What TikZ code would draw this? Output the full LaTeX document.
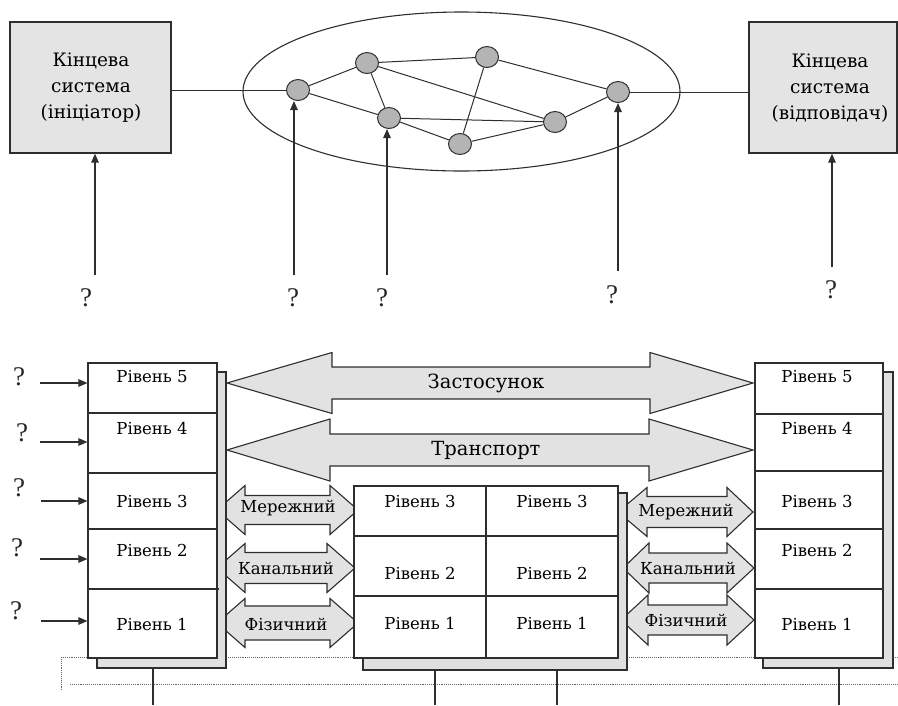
\documentclass[tikz,border=0pt]{standalone}
\usepackage{fontspec}
\setmainfont{DejaVu Serif}
\newfontfamily\qfont{Liberation Serif}
\usetikzlibrary{arrows.meta,shapes.geometric}
\definecolor{ln}{HTML}{2E2E2E}
\definecolor{boxfill}{HTML}{E4E4E4}
\definecolor{nodefill}{HTML}{B4B4B4}
\definecolor{arrfill}{HTML}{E2E2E2}
\definecolor{shadefill}{HTML}{E0E0E0}
\newcommand{\mkdarrow}[7]{\draw[bigarr] (#1,#5) -- (#2,#5-#6) -- (#2,#5-#7) -- (#3,#5-#7) -- (#3,#5-#6) -- (#4,#5) -- (#3,#5+#6) -- (#3,#5+#7) -- (#2,#5+#7) -- (#2,#5+#6) -- cycle;}
\begin{document}
\begin{tikzpicture}[x=1pt,y=-1pt,
  endbox/.style={draw=ln, line width=1.3pt, fill=boxfill, rectangle, inner sep=0pt},
  endtext/.style={align=center, font=\fontsize{18.5}{26}\selectfont, text=black},
  netnode/.style={draw=ln, line width=1pt, fill=nodefill, ellipse, minimum width=23pt, minimum height=21pt, inner sep=0pt},
  netedge/.style={draw=ln, line width=1pt},
  uparr/.style={draw=ln, line width=1.2pt, -{Triangle[length=9pt,width=7.5pt]}},
  qmark/.style={font=\qfont\fontsize{27}{27}\selectfont, text=black!85, inner sep=0pt},
  bigarr/.style={draw=ln, line width=1.1pt, fill=arrfill, line join=miter},
  shadowbox/.style={draw=ln, line width=1.1pt, fill=shadefill},
  stackbox/.style={draw=ln, line width=1.1pt, fill=white, rectangle, inner sep=0pt},
  divider/.style={draw=ln, line width=1.1pt},
  lvl/.style={font=\fontsize{16.5}{18}\selectfont, text=black, inner sep=0pt},
  arrlabel/.style={font=\fontsize{16.5}{18}\selectfont, text=black, inner sep=0pt},
  biglabel/.style={font=\fontsize{19.5}{21}\selectfont, text=black, inner sep=0pt},
  dotline/.style={draw=black!60, line width=0.9pt, densely dotted},
  stem/.style={draw=ln, line width=1.1pt}
]
\useasboundingbox (0,0) rectangle (898,705);

% ---------- top part ----------
\node[endbox, minimum width=161pt, minimum height=131pt] (init) at (90.5,87.5) {};
\node[endtext] (inittxt) at (91,88) {Кінцева\\система\\(ініціатор)};
\node[endbox, minimum width=148pt, minimum height=131pt] (resp) at (823,87.5) {};
\node[endtext] (resptxt) at (830,88) {Кінцева\\система\\(відповідач)};

\node[draw=ln, line width=1.1pt, ellipse, minimum width=437pt, minimum height=159pt, inner sep=0pt] (net) at (461.5,91.5) {};

\node[netnode] (n1) at (298,90) {};
\node[netnode] (n2) at (367,63) {};
\node[netnode] (n3) at (389,118) {};
\node[netnode] (n4) at (487,57) {};
\node[netnode] (n5) at (555,122) {};
\node[netnode] (n6) at (618,92) {};
\node[netnode] (n7) at (460,144) {};

\draw[netedge] (n1) -- (n2);
\draw[netedge] (n1) -- (n3);
\draw[netedge] (n2) -- (n3);
\draw[netedge] (n2) -- (n4);
\draw[netedge] (n2) -- (n5);
\draw[netedge] (n3) -- (n5);
\draw[netedge] (n3) -- (n7);
\draw[netedge] (n7) -- (n4);
\draw[netedge] (n7) -- (n5);
\draw[netedge] (n4) -- (n6);
\draw[netedge] (n5) -- (n6);
\draw[netedge] (init.east |- n1.west) -- (n1.west);
\draw[netedge] (n6.east) -- (resp.west |- n6.east);

\node[qmark] (q1) at (86,298) {?};
\node[qmark] (q2) at (293,298) {?};
\node[qmark] (q3) at (382,298) {?};
\node[qmark] (q4) at (612,295) {?};
\node[qmark] (q5) at (831,290) {?};
\coordinate (a1) at (95,275);
\coordinate (a2) at (294,275);
\coordinate (a3) at (387,275);
\coordinate (a4) at (618,271);
\coordinate (a5) at (832,267);
\draw[uparr] (a1) -- (a1 |- init.south);
\draw[uparr] (a2) -- (a2 |- n1.south);
\draw[uparr] (a3) -- (a3 |- n3.south);
\draw[uparr] (a4) -- (a4 |- n6.south);
\draw[uparr] (a5) -- (a5 |- resp.south);

% ---------- bottom part ----------
\draw[dotline] (61,657) -- (898,657);
\draw[dotline] (61,657) -- (61,690);
\draw[dotline] (70,684) -- (898,684);

% big arrows
\mkdarrow{227}{332}{650}{753}{383}{30.5}{16}
\mkdarrow{227}{330}{649}{753}{450}{31}{16}
\node[biglabel] (app) at (486,383) {Застосунок};
\node[biglabel] (trn) at (486,450) {Транспорт};

% small arrows
\mkdarrow{217}{245}{330}{358}{510}{24.5}{14.5}
\mkdarrow{217}{245}{327}{355}{568}{24.5}{15.5}
\mkdarrow{217}{245}{330}{358}{623}{24.5}{17}
\mkdarrow{618}{647}{727}{753}{512}{24.5}{15.5}
\mkdarrow{623}{649}{727}{754}{568}{25}{15}
\mkdarrow{621}{648}{727}{754}{620}{25}{15}
\node[arrlabel] (lm) at (288,508) {Мережний};
\node[arrlabel] (lk) at (286,568) {Канальний};
\node[arrlabel] (lf) at (286,624) {Фізичний};
\node[arrlabel] (rm) at (686,512) {Мережний};
\node[arrlabel] (rk) at (688,568) {Канальний};
\node[arrlabel] (rf) at (686,620) {Фізичний};

% left stack
\draw[shadowbox] (97,372) rectangle (226,668);
\node[stackbox, minimum width=129pt, minimum height=295pt] (ls) at (152.5,510.5) {};
\draw[divider] (88,413) -- (217,413);
\draw[divider] (88,473) -- (217,473);
\draw[divider] (88,529) -- (217,529);
\draw[divider] (88,589) -- (219,589);
\node[lvl] (ls5) at (152,377) {Рівень 5};
\node[lvl] (ls4) at (152,428) {Рівень 4};
\node[lvl] (ls3) at (152,501) {Рівень 3};
\node[lvl] (ls2) at (152,550) {Рівень 2};
\node[lvl] (ls1) at (152,624) {Рівень 1};

% middle stack
\draw[shadowbox] (363,493) rectangle (627,670);
\node[stackbox, minimum width=264pt, minimum height=172pt] (ms) at (486,572) {};
\draw[divider] (486,486) -- (486,658);
\draw[divider] (354,536) -- (618,536);
\draw[divider] (354,596) -- (618,596);
\node[lvl] (m3a) at (420,501) {Рівень 3};
\node[lvl] (m3b) at (552,501) {Рівень 3};
\node[lvl] (m2a) at (420,573) {Рівень 2};
\node[lvl] (m2b) at (552,573) {Рівень 2};
\node[lvl] (m1a) at (420,623) {Рівень 1};
\node[lvl] (m1b) at (552,623) {Рівень 1};

% right stack
\draw[shadowbox] (763,372) rectangle (893,668);
\node[stackbox, minimum width=128pt, minimum height=295pt] (rs) at (819,510.5) {};
\draw[divider] (755,414) -- (883,414);
\draw[divider] (755,471) -- (883,471);
\draw[divider] (755,529) -- (883,529);
\draw[divider] (755,589) -- (883,589);
\node[lvl] (rs5) at (817,377) {Рівень 5};
\node[lvl] (rs4) at (817,428) {Рівень 4};
\node[lvl] (rs3) at (817,501) {Рівень 3};
\node[lvl] (rs2) at (817,550) {Рівень 2};
\node[lvl] (rs1) at (817,624) {Рівень 1};

% stems
\draw[stem] (153,668) -- (153,705);
\draw[stem] (435,670) -- (435,705);
\draw[stem] (557,670) -- (557,705);
\draw[stem] (839,668) -- (839,705);

% left question marks and arrows
\node[qmark] (lq1) at (19,377) {?};
\node[qmark] (lq2) at (22,433) {?};
\node[qmark] (lq3) at (19,488) {?};
\node[qmark] (lq4) at (17,548) {?};
\node[qmark] (lq5) at (16,611) {?};
\coordinate (b1) at (40,383);
\coordinate (b2) at (40,442);
\coordinate (b3) at (41,501);
\coordinate (b4) at (40,559);
\coordinate (b5) at (41,621);
\draw[uparr] (b1) -- (b1 -| ls.west);
\draw[uparr] (b2) -- (b2 -| ls.west);
\draw[uparr] (b3) -- (b3 -| ls.west);
\draw[uparr] (b4) -- (b4 -| ls.west);
\draw[uparr] (b5) -- (b5 -| ls.west);
\end{tikzpicture}
\end{document}
